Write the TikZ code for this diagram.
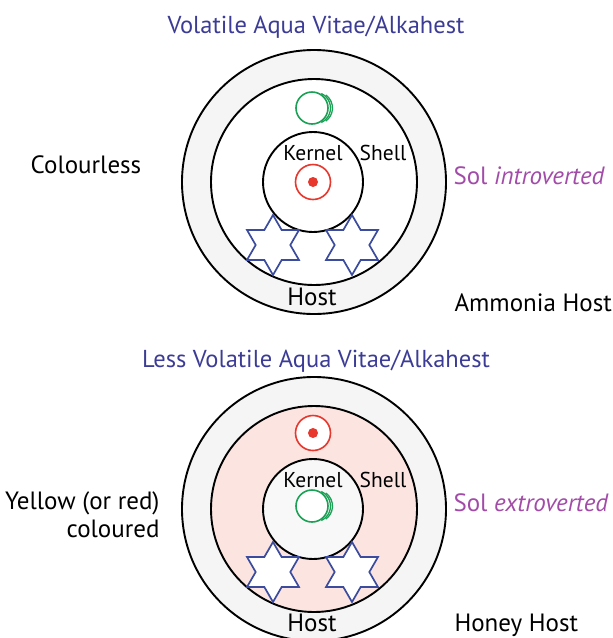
\documentclass[tikz,border=0pt]{standalone}
\usepackage{fontspec}
\setmainfont{PT Sans}
\usepackage{tikz}
\usetikzlibrary{calc,positioning,shapes.geometric}
\definecolor{myTITLE}{HTML}{3C3C96}
\definecolor{myPURPLE}{HTML}{A24BA8}
\definecolor{myRING}{HTML}{F5F5F5}
\definecolor{myPINK}{HTML}{FCE4E1}
\definecolor{myKERNEL}{HTML}{F8F8F8}
\definecolor{myGREEN}{HTML}{1BA155}
\definecolor{myRED}{HTML}{E8372D}
\definecolor{mySTAR}{HTML}{3B4C9E}

\begin{document}
\begin{tikzpicture}[x=1pt, y=-1pt,
    ring/.style={circle, draw=black, line width=1.9pt, inner sep=0pt},
    hexstar/.style={star, star points=6, star point ratio=1.732, draw=mySTAR, line width=1.7pt, fill=white, inner sep=0pt, minimum size=60pt},
    greenring/.style={circle, draw=myGREEN, line width=1.6pt, fill=white, inner sep=0pt, minimum size=32pt},
    redring/.style={circle, draw=myRED, line width=1.6pt, fill=white, inner sep=0pt, minimum size=35pt},
    reddot/.style={circle, fill=myRED, inner sep=0pt, minimum size=10pt},
    title/.style={text=myTITLE, font=\fontsize{24.5}{28}\selectfont, anchor=base},
    label/.style={font=\fontsize{25}{29}\selectfont},
    small/.style={font=\fontsize{21.5}{25}\selectfont, anchor=base}]
    \useasboundingbox (0,0) rectangle (613,638);
    \clip (0,0) rectangle (613,638);

    % Top picture
    \node[title] (titleTop) at (316,33) {Volatile Aqua Vitae/Alkahest};
    \node[ring, fill=myRING, minimum size=264pt] (outerTop) at (314,182) {};
    \node[ring, fill=white, minimum size=206pt] (shellTop) at (314,182) {};
    \node[ring, fill=white, minimum size=100pt] (kernelTop) at (313,182) {};
    \node[greenring] (greenTop) at (312,108) {};
    \draw[myGREEN, line width=1.3pt] ($(greenTop.center)+(2.5,0)$) ++(-65:16) arc (-65:65:16);
    \draw[myGREEN, line width=1.3pt] ($(greenTop.center)+(4.5,0)$) ++(-55:16) arc (-55:55:16);
    \node[redring] (redTop) at (313,182) {};
    \node[reddot] (redDotTop) at (redTop.center) {};
    \node[hexstar] (starTopL) at (273,245) {};
    \node[hexstar] (starTopR) at (352,245) {};
    \node[small] (kernelLblTop) at (313,160) {Kernel};
    \node[small] (shellLblTop) at (383,160) {Shell};
    \node[label, anchor=base] (hostTop) at (312,305) {Host};
    \node[label, anchor=base] (colourless) at (86,173) {Colourless};
    \node[label, anchor=base west, text=myPURPLE] (solTop) at (450,184) {Sol \textit{introverted}};
    \node[label, anchor=base west] (ammonia) at (451,311) {Ammonia Host};

    % Bottom picture
    \node[title] (titleBot) at (316,367) {Less Volatile Aqua Vitae/Alkahest};
    \node[ring, fill=myRING, minimum size=264pt] (outerBot) at (314,509) {};
    \node[ring, fill=myPINK, minimum size=206pt] (shellBot) at (314,509) {};
    \node[ring, fill=myKERNEL, minimum size=100pt] (kernelBot) at (313,509) {};
    \node[redring] (redBot) at (313,433) {};
    \node[reddot] (redDotBot) at (redBot.center) {};
    \node[greenring] (greenBot) at (312,506) {};
    \draw[myGREEN, line width=1.3pt] ($(greenBot.center)+(2.5,0)$) ++(-65:16) arc (-65:65:16);
    \draw[myGREEN, line width=1.3pt] ($(greenBot.center)+(4.5,0)$) ++(-55:16) arc (-55:55:16);
    \node[hexstar] (starBotL) at (273,572) {};
    \node[hexstar] (starBotR) at (352,572) {};
    \node[small] (kernelLblBot) at (313,487) {Kernel};
    \node[small] (shellLblBot) at (383,487) {Shell};
    \node[label, anchor=base] (hostBot) at (312,631) {Host};
    \node[label, anchor=base east] (yellow) at (163,509) {Yellow (or red)};
    \node[label, anchor=base east] (coloured) at (163,537) {coloured};
    \node[label, anchor=base west, text=myPURPLE] (solBot) at (450,511) {Sol \textit{extroverted}};
    \node[label, anchor=base west] (honey) at (451,631) {Honey Host};
\end{tikzpicture}
\end{document}
